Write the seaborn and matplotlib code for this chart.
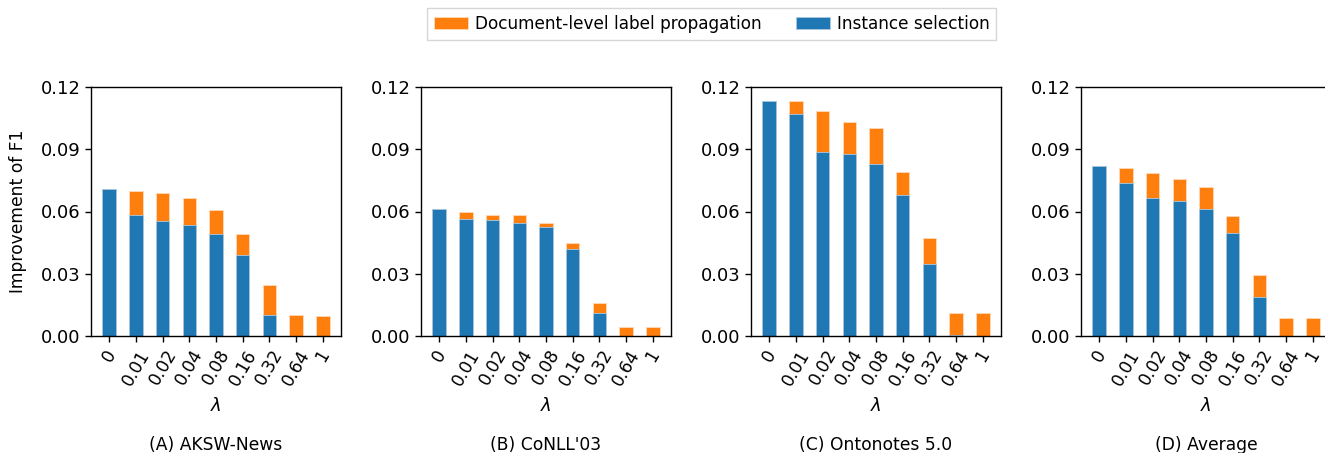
import matplotlib
matplotlib.use("Agg")
import matplotlib.pyplot as plt
import seaborn as sns
import pandas as pd
import numpy as np

lambdas = ["0", "0.01", "0.02", "0.04", "0.08", "0.16", "0.32", "0.64", "1"]
panel_titles = ["(A) AKSW-News", "(B) CoNLL'03", "(C) Ontonotes 5.0", "(D) Average"]

# Instance selection (blue, bottom) and total height (orange top reaches this)
aksw_inst = [0.0709, 0.0581, 0.0552, 0.0536, 0.0492, 0.0391, 0.0100, 0.0, 0.0]
aksw_total = [0.0709, 0.0700, 0.0688, 0.0663, 0.0608, 0.0492, 0.0248, 0.0101, 0.0097]
conll_inst = [0.0613, 0.0565, 0.0558, 0.0545, 0.0524, 0.0417, 0.0111, 0.0, 0.0]
conll_total = [0.0613, 0.0598, 0.0584, 0.0584, 0.0545, 0.0450, 0.0161, 0.0045, 0.0045]
onto_inst = [0.1134, 0.1068, 0.0886, 0.0875, 0.0827, 0.0679, 0.0347, 0.0004, 0.0]
onto_total = [0.1134, 0.1134, 0.1086, 0.1033, 0.1002, 0.0791, 0.0471, 0.0111, 0.0111]
avg_inst = [0.0819, 0.0738, 0.0666, 0.0651, 0.0614, 0.0495, 0.0187, 0.0, 0.0]
avg_total = [0.0819, 0.0811, 0.0785, 0.0759, 0.0719, 0.0579, 0.0294, 0.0087, 0.0085]

inst_series = [aksw_inst, conll_inst, onto_inst, avg_inst]
total_series = [aksw_total, conll_total, onto_total, avg_total]

yticks = [0.0, 0.03, 0.06, 0.09, 0.12]

BLUE = "#1f77b4"
ORANGE = "#ff7f0e"

plt.rcParams['font.family'] = ['DejaVu Sans']

W, H = 1325, 453
fig = plt.figure(figsize=(W / 100, H / 100), dpi=100)

lefts = [91, 421, 751, 1081]
ax_w = 250
ax_bottom = 336
ax_h = 249

for i in range(4):
    ax = fig.add_axes([lefts[i] / W, (H - ax_bottom) / H, ax_w / W, ax_h / H])
    df = pd.DataFrame({"lam": lambdas, "inst": inst_series[i], "total": total_series[i]})
    sns.barplot(data=df, x="lam", y="total", order=lambdas, color=ORANGE,
                saturation=1, width=0.5, ax=ax, edgecolor="#ffd9b8", linewidth=0.6,
                label="Document-level label propagation" if i == 0 else None)
    sns.barplot(data=df, x="lam", y="inst", order=lambdas, color=BLUE,
                saturation=1, width=0.5, ax=ax, edgecolor="#a9c9e3", linewidth=0.6,
                label="Instance selection" if i == 0 else None)
    ax.set_xlim(-0.68, 8.68)
    ax.set_ylim(0, 0.12)
    ax.set_yticks(yticks)
    ax.set_yticklabels([f"{t:.2f}" for t in yticks], fontsize=13)
    ax.set_xticks(range(len(lambdas)))
    ax.set_xticklabels(lambdas, rotation=60, ha="center", fontsize=12.3)
    ax.tick_params(axis="both", length=4, width=1)
    ax.set_xlabel(r"$\lambda$", fontsize=13)
    ax.xaxis.set_label_coords(0.5, -0.245)
    if i == 0:
        ax.set_ylabel("Improvement of F1", fontsize=12.3)
        ax.yaxis.set_label_coords(-0.256, 0.5)
    else:
        ax.set_ylabel("")
    if ax.get_legend() is not None:
        ax.get_legend().remove()
    ax.text(0.5, -0.438, panel_titles[i], transform=ax.transAxes,
            ha="center", va="center", fontsize=12.3)
    for s in ax.spines.values():
        s.set_linewidth(1)
    if i == 0:
        handles, labels = ax.get_legend_handles_labels()

fig.legend(handles, labels, loc="upper center", bbox_to_anchor=(712 / W, 0.982),
           ncol=2, fontsize=12.2, frameon=True, fancybox=False,
           handlelength=2.0, handletextpad=0.4, columnspacing=2.05,
           borderaxespad=0.0)

fig.savefig("out.png", dpi=100)
